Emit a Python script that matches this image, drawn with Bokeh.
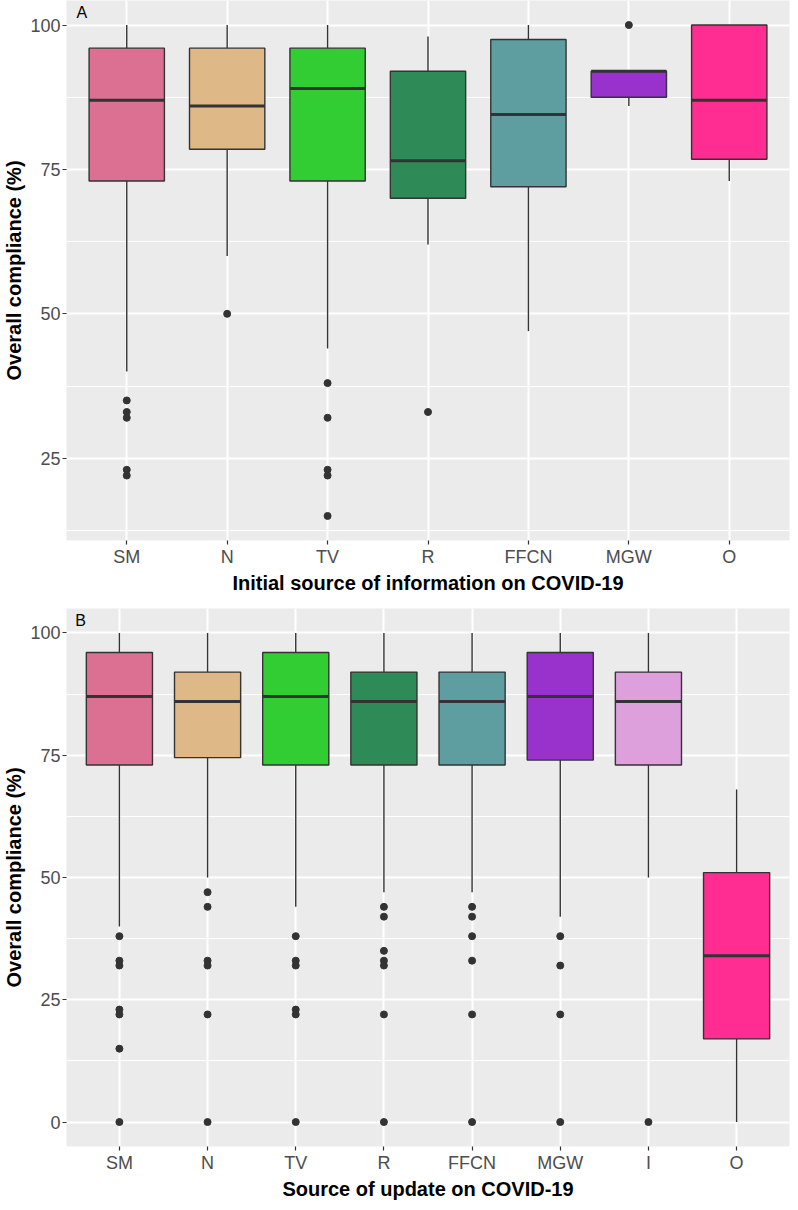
from bokeh.plotting import figure
from bokeh.models import FactorRange, Range1d, FixedTicker, Label, ColumnDataSource
from bokeh.transform import dodge
from bokeh.layouts import column
from bokeh.embed import file_html
from bokeh.resources import INLINE

# ---------------- Panel A: initial source of information ----------------
a_cats = ["SM", "N", "TV", "R", "FFCN", "MGW", "O"]
a_colors = ["#DB7093", "#DEB887", "#32CD32", "#2E8B57", "#5F9EA0", "#9932CC", "#FF2D91"]
a_lower = [40, 60, 44, 62, 47, 86, 73]
a_q1 = [73, 78.5, 73, 70, 72, 87.5, 76.75]
a_median = [87, 86, 89, 76.5, 84.5, 92, 87]
a_q3 = [96, 96, 96, 92, 97.5, 92, 100]
a_upper = [100, 100, 100, 98, 100, 92, 100]
a_out_cats = ["SM", "SM", "SM", "SM", "SM", "N", "TV", "TV", "TV", "TV", "TV", "R", "MGW"]
a_out_vals = [35, 33, 32, 23, 22, 50, 38, 32, 23, 22, 15, 33, 100]
a_ticks = [25, 50, 75, 100]
a_minor = [12.5, 37.5, 62.5, 87.5]

# ---------------- Panel B: source of update ----------------
b_cats = ["SM", "N", "TV", "R", "FFCN", "MGW", "I", "O"]
b_colors = ["#DB7093", "#DEB887", "#32CD32", "#2E8B57", "#5F9EA0", "#9932CC", "#DDA0DD", "#FF2D91"]
b_lower = [40, 50, 44, 47, 47, 42, 50, 0]
b_q1 = [73, 74.5, 73, 73, 73, 74, 73, 17]
b_median = [87, 86, 87, 86, 86, 87, 86, 34]
b_q3 = [96, 92, 96, 92, 92, 96, 92, 51]
b_upper = [100, 100, 100, 100, 100, 100, 100, 68]
b_out_cats = (["SM"] * 7 + ["N"] * 6 + ["TV"] * 6 + ["R"] * 7 +
              ["FFCN"] * 6 + ["MGW"] * 4 + ["I"])
b_out_vals = [38, 33, 32, 23, 22, 15, 0,
              47, 44, 33, 32, 22, 0,
              38, 33, 32, 23, 22, 0,
              44, 42, 35, 33, 32, 22, 0,
              44, 42, 38, 33, 22, 0,
              38, 32, 22, 0,
              0]
b_ticks = [0, 25, 50, 75, 100]
b_minor = [12.5, 37.5, 62.5, 87.5]

FONT = "Liberation Sans"
DARK = "#333333"


def make_panel(cats, colors, lower, q1, median, q3, upper, out_cats, out_vals,
               ymin, ymax, ticks, minor, xlabel, letter, letter_y,
               height, b_top, b_bottom):
    p = figure(x_range=FactorRange(factors=cats, range_padding=0.1,
                                   range_padding_units="absolute"),
               y_range=Range1d(ymin, ymax),
               width=790, height=height, output_backend="svg",
               toolbar_location=None,
               min_border_left=54, min_border_right=1,
               min_border_top=b_top, min_border_bottom=b_bottom)
    p.background_fill_color = "#EBEBEB"
    p.border_fill_color = "white"
    p.outline_line_color = None

    src = ColumnDataSource(dict(cat=cats, color=colors, lower=lower, q1=q1,
                                median=median, q3=q3, upper=upper))
    # whiskers
    p.segment(x0="cat", x1="cat", y0="q3", y1="upper", source=src,
              line_color=DARK, line_width=1.4)
    p.segment(x0="cat", x1="cat", y0="q1", y1="lower", source=src,
              line_color=DARK, line_width=1.4)
    # boxes
    p.vbar(x="cat", width=0.75, top="q3", bottom="q1", source=src,
           fill_color="color", line_color=DARK, line_width=1.4)
    # medians
    p.segment(x0=dodge("cat", -0.375, range=p.x_range),
              x1=dodge("cat", 0.375, range=p.x_range),
              y0="median", y1="median", source=src,
              line_color=DARK, line_width=3)
    # outliers
    p.scatter(x=out_cats, y=out_vals, size=7, fill_color=DARK, line_color=DARK)

    p.yaxis.ticker = FixedTicker(ticks=ticks, minor_ticks=minor)
    p.xgrid.grid_line_color = "white"
    p.xgrid.grid_line_width = 2
    p.ygrid.grid_line_color = "white"
    p.ygrid.grid_line_width = 2
    p.ygrid.minor_grid_line_color = "white"
    p.ygrid.minor_grid_line_width = 1

    for ax in (p.xaxis, p.yaxis):
        ax.axis_line_color = None
        ax.major_tick_line_color = DARK
        ax.major_tick_line_width = 1.2
        ax.major_tick_out = 4
        ax.major_tick_in = 0
        ax.minor_tick_line_color = None
        ax.major_label_text_font = FONT
        ax.major_label_text_font_size = "18px"
        ax.major_label_text_color = "#4D4D4D"
        ax.major_label_standoff = 2
        ax.axis_label_text_font = FONT
        ax.axis_label_text_font_size = "20px"
        ax.axis_label_text_font_style = "bold"
        ax.axis_label_text_color = "black"
        ax.axis_label_standoff = 2

    p.xaxis.axis_label = xlabel
    p.yaxis.axis_label = "Overall compliance (%)"

    p.add_layout(Label(x=0.0, y=letter_y, text=letter, text_font=FONT,
                       text_font_size="16px", text_color="black",
                       text_baseline="top", text_align="left"))
    return p


pA = make_panel(a_cats, a_colors, a_lower, a_q1, a_median, a_q3, a_upper,
                a_out_cats, a_out_vals, 10.75, 104.25, a_ticks, a_minor,
                "Initial source of information on COVID-19", "A", 103.7,
                596, 0, 56)
pB = make_panel(b_cats, b_colors, b_lower, b_q1, b_median, b_q3, b_upper,
                b_out_cats, b_out_vals, -5, 105, b_ticks, b_minor,
                "Source of update on COVID-19", "B", 104.2,
                606, 12, 54)

layout = column(pA, pB, spacing=0)
open("out.html", "w").write(file_html(layout, INLINE))
